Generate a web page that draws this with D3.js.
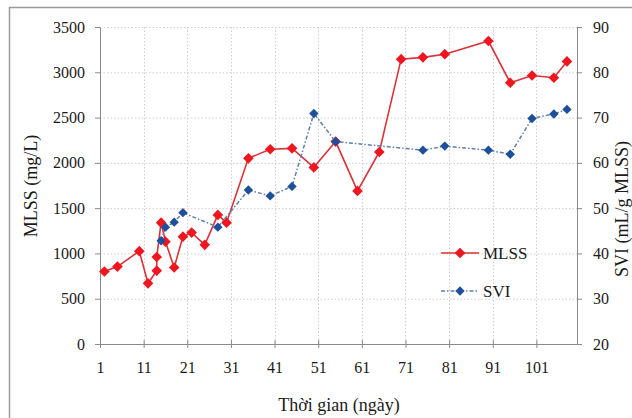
<!DOCTYPE html>
<html>
<head>
<meta charset="utf-8">
<script src="https://cdn.jsdelivr.net/npm/d3@7"></script>
<style>
  body { margin: 0; background: #fff; }
  svg { font-family: "Liberation Serif", "Times New Roman", serif; }
</style>
</head>
<body>
<svg width="632" height="418"></svg>
<script>
'use strict';

var mlssDays = [2, 5, 10, 12, 14, 14, 15, 16, 18, 20, 22, 25, 28, 30, 35, 40, 45, 50, 55, 60, 65, 70, 75, 80, 90, 95, 100, 105, 108];
var mlssVals = [800, 855, 1025, 670, 810, 960, 1340, 1130, 845, 1185, 1230, 1095, 1425, 1340, 2050, 2150, 2160, 1950, 2235, 1690, 2120, 3145, 3165, 3200, 3345, 2885, 2965, 2940, 3120];
var sviDays = [15, 16, 18, 20, 28, 35, 40, 45, 50, 55, 75, 80, 90, 95, 100, 105, 108];
var sviVals = [42.8, 45.8, 46.9, 49.0, 45.8, 54.0, 52.7, 54.8, 70.9, 64.7, 62.8, 63.7, 62.8, 61.9, 69.8, 70.8, 71.8];
var xTicks = [1, 11, 21, 31, 41, 51, 61, 71, 81, 91, 101];
var leftTicks = [0, 500, 1000, 1500, 2000, 2500, 3000, 3500];
var rightTicks = [20, 30, 40, 50, 60, 70, 80, 90];

var svg = d3.select('svg');
var L = 100, R = 577, T = 27, B = 344;

var x = d3.scaleLinear().domain([1, 110.3]).range([L, R]);
var yL = d3.scaleLinear().domain([0, 3500]).range([B, T]);
var yR = d3.scaleLinear().domain([20, 90]).range([B, T]);

// outer frame (cut off at right and bottom)
svg.append('path')
  .attr('d', 'M9.5,418 V7.5 H632')
  .attr('fill', 'none').attr('stroke', '#9a9a9a').attr('stroke-width', 1.5);

// grid
var grid = svg.append('g').attr('stroke', '#cfcfcf').attr('stroke-dasharray', '1.5,2');
grid.selectAll('line.h').data(leftTicks.slice(1)).enter().append('line')
  .attr('x1', L).attr('x2', R)
  .attr('y1', d => yL(d) + 0.5).attr('y2', d => yL(d) + 0.5);
grid.selectAll('line.v').data(xTicks.slice(1)).enter().append('line')
  .attr('y1', T).attr('y2', B)
  .attr('x1', d => Math.round(x(d)) + 0.5).attr('x2', d => Math.round(x(d)) + 0.5);

// axes
var axisStyle = g => {
  g.selectAll('path, line').attr('stroke', '#8a8a8a');
  g.selectAll('text').attr('fill', '#1a1a1a').style('font-size', '16px')
    .style('font-family', '"Liberation Serif", serif');
};
var fmt = d3.format('d');
svg.append('g').attr('transform', `translate(${L},0)`)
  .call(d3.axisLeft(yL).tickValues(leftTicks).tickFormat(fmt).tickSize(5).tickSizeOuter(0).tickPadding(10))
  .call(axisStyle);
svg.append('g').attr('transform', `translate(${R},0)`)
  .call(d3.axisRight(yR).tickValues(rightTicks).tickFormat(fmt).tickSize(5).tickSizeOuter(0).tickPadding(11))
  .call(axisStyle);
var xa = svg.append('g').attr('transform', `translate(0,${B})`)
  .call(d3.axisBottom(x).tickValues(xTicks).tickFormat(fmt).tickSize(4).tickSizeOuter(0).tickPadding(14))
  .call(axisStyle);
xa.select('.domain').attr('d', `M${L},0.5H${R}`);
xa.selectAll('.tick line').attr('y1', -4);

// titles
svg.append('text').attr('x', 339).attr('y', 411).attr('text-anchor', 'middle')
  .style('font-size', '18px').attr('fill', '#1a1a1a').text('Thời gian (ngày)');
svg.append('text').attr('transform', 'translate(37,186) rotate(-90)').attr('text-anchor', 'middle')
  .style('font-size', '18px').attr('fill', '#1a1a1a').text('MLSS (mg/L)');
svg.append('text').attr('transform', 'translate(628,209) rotate(-90)').attr('text-anchor', 'middle')
  .style('font-size', '18px').attr('fill', '#1a1a1a').text('SVI (mL/g MLSS)');

var diamond = d3.symbol().type(d3.symbolDiamond2);

var mlss = mlssDays.map((d, i) => [d, mlssVals[i]]);
var svi = sviDays.map((d, i) => [d, sviVals[i]]);

svg.append('path').datum(mlss)
  .attr('d', d3.line().x(d => x(d[0])).y(d => yL(d[1])))
  .attr('fill', 'none').attr('stroke', '#d8323a').attr('stroke-width', 1.6);
svg.append('g').selectAll('path').data(mlss).enter().append('path')
  .attr('d', diamond.size(72))
  .attr('transform', d => `translate(${x(d[0])},${yL(d[1])})`)
  .attr('fill', '#f0161f');

svg.append('path').datum(svi)
  .attr('d', d3.line().x(d => x(d[0])).y(d => yR(d[1])))
  .attr('fill', 'none').attr('stroke', '#5f7fa8').attr('stroke-width', 1.5)
  .attr('stroke-dasharray', '4,2,1.5,2');
svg.append('g').selectAll('path').data(svi).enter().append('path')
  .attr('d', diamond.size(56))
  .attr('transform', d => `translate(${x(d[0])},${yR(d[1])})`)
  .attr('fill', '#1d4f9a');

// legend
var legend = svg.append('g');
legend.append('line').attr('x1', 441).attr('x2', 479).attr('y1', 253).attr('y2', 253)
  .attr('stroke', '#d8323a').attr('stroke-width', 1.6);
legend.append('path').attr('d', diamond.size(72)).attr('transform', 'translate(460,253)').attr('fill', '#f0161f');
legend.append('text').attr('x', 483).attr('y', 259).style('font-size', '17px').attr('fill', '#1a1a1a').text('MLSS');
legend.append('line').attr('x1', 441).attr('x2', 479).attr('y1', 291).attr('y2', 291)
  .attr('stroke', '#5f7fa8').attr('stroke-width', 1.5).attr('stroke-dasharray', '4,2,1.5,2');
legend.append('path').attr('d', diamond.size(56)).attr('transform', 'translate(460,291)').attr('fill', '#1d4f9a');
legend.append('text').attr('x', 483).attr('y', 297).style('font-size', '17px').attr('fill', '#1a1a1a').text('SVI');
</script>
</body>
</html>
